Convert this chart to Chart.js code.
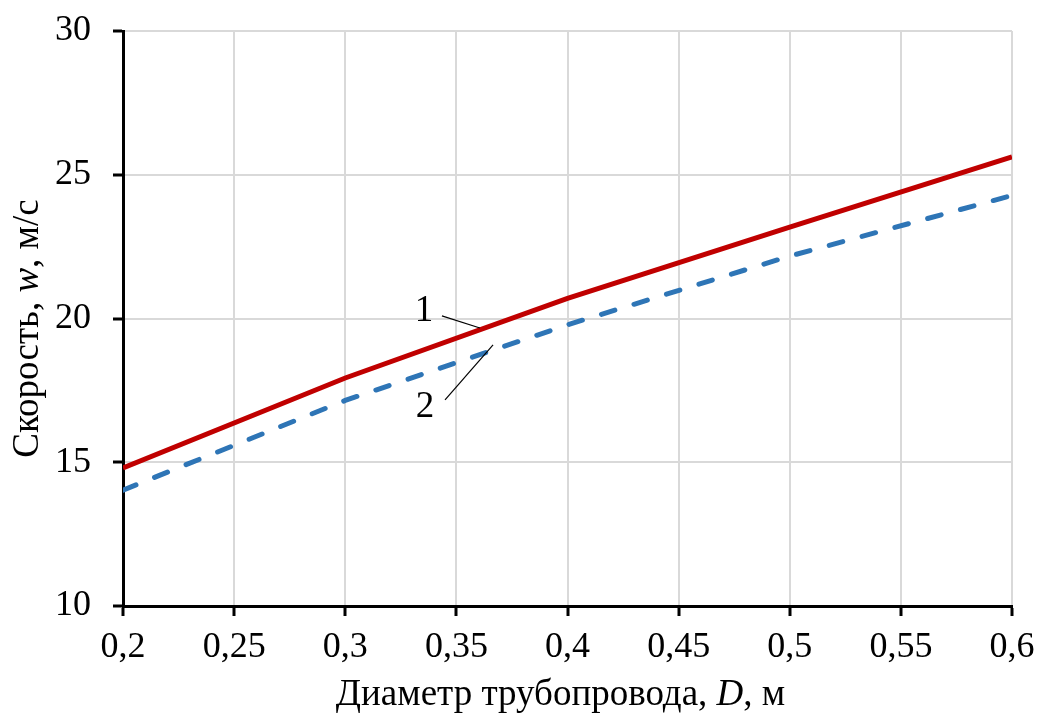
<!DOCTYPE html>
<html>
<head>
<meta charset="utf-8">
<script src="https://cdn.jsdelivr.net/npm/chart.js@4"></script>
<style>
  body { margin: 0; background: #fff; }
  #wrap { width: 1038px; height: 720px; }
</style>
</head>
<body>
<div id="wrap"><canvas id="myChart" width="1038" height="720"></canvas></div>
<script>
// values
const diameters = [0.2, 0.3, 0.4, 0.5, 0.6];
const speed1 = [14.8, 17.93, 20.7, 23.18, 25.62];
const speed2 = [14.03, 17.15, 19.78, 22.17, 24.28];
const yTicks = [10, 15, 20, 25, 30];

// curve labels: [text, label x, label y, line from x, y, to x, y] in data units
const labels = [
  ['1', 0.3354, 20.26, 0.3435, 20.09, 0.3606, 19.67],
  ['2', 0.3359, 16.92, 0.3449, 17.17, 0.3665, 19.08]
];

const FONT = '"Liberation Serif", "Times New Roman", serif';
const TITLE_SIZE = 37;

const toPoints = (xs, ys) => xs.map((x, i) => ({ x: x, y: ys[i] }));

// draws the two axis titles (with italic letters) and the curve labels
const extras = {
  id: 'extras',
  afterDraw(chart) {
    const ctx = chart.ctx;
    const xs = chart.scales.x, ys = chart.scales.y;
    const area = chart.chartArea;

    const drawParts = (parts, cx, cy) => {
      ctx.textBaseline = 'middle';
      ctx.textAlign = 'left';
      let total = 0;
      parts.forEach(p => {
        ctx.font = (p[1] ? 'italic ' : '') + TITLE_SIZE + 'px ' + FONT;
        total += ctx.measureText(p[0]).width;
      });
      let x = cx - total / 2;
      parts.forEach(p => {
        ctx.font = (p[1] ? 'italic ' : '') + TITLE_SIZE + 'px ' + FONT;
        ctx.fillText(p[0], x, cy);
        x += ctx.measureText(p[0]).width;
      });
    };

    ctx.save();
    ctx.fillStyle = '#000';
    drawParts([['Диаметр трубопровода, ', false], ['D', true], [', м', false]],
      (area.left + area.right) / 2 - 7, 695);

    ctx.translate(28, (area.top + area.bottom) / 2 + 10);
    ctx.rotate(-Math.PI / 2);
    drawParts([['Скорость, ', false], ['w', true], [', м/с', false]], 0, 0);
    ctx.restore();

    ctx.save();
    ctx.strokeStyle = '#000';
    ctx.lineWidth = 1.2;
    ctx.fillStyle = '#000';
    ctx.font = '37px ' + FONT;
    ctx.textAlign = 'center';
    ctx.textBaseline = 'middle';
    labels.forEach(l => {
      ctx.fillText(l[0], xs.getPixelForValue(l[1]), ys.getPixelForValue(l[2]));
      ctx.beginPath();
      ctx.moveTo(xs.getPixelForValue(l[3]), ys.getPixelForValue(l[4]));
      ctx.lineTo(xs.getPixelForValue(l[5]), ys.getPixelForValue(l[6]));
      ctx.stroke();
    });
    ctx.restore();
  }
};

new Chart(document.getElementById('myChart').getContext('2d'), {
  type: 'line',
  data: {
    datasets: [
      {
        label: '1',
        data: toPoints(diameters, speed1),
        borderColor: '#c00000',
        borderWidth: 5,
        pointRadius: 0,
        tension: 0,
        order: 1
      },
      {
        label: '2',
        data: toPoints(diameters, speed2),
        borderColor: '#2e75b6',
        borderWidth: 5,
        borderDash: [14, 20],
        borderCapStyle: 'round',
        pointRadius: 0,
        tension: 0,
        order: 2
      }
    ]
  },
  plugins: [extras],
  options: {
    responsive: false,
    animation: false,
    layout: { padding: { top: 31, right: 26, left: 0, bottom: 0 } },
    plugins: {
      legend: { display: false },
      tooltip: { enabled: false }
    },
    scales: {
      x: {
        type: 'linear',
        min: 0.2,
        max: 0.6,
        afterFit: s => { s.height = 114; s.paddingLeft = 0; s.paddingRight = 0; },
        ticks: {
          stepSize: 0.05,
          color: '#000',
          padding: 10,
          font: { family: FONT, size: 36 },
          callback: v => String(Math.round(v * 100) / 100).replace('.', ',')
        },
        grid: { color: '#d9d9d9', lineWidth: 2, tickColor: '#000', tickWidth: 3, tickLength: 10 },
        border: { color: '#000', width: 3 }
      },
      y: {
        min: yTicks[0],
        max: yTicks[yTicks.length - 1],
        afterFit: s => { s.width = 123; s.paddingTop = 0; s.paddingBottom = 0; },
        afterBuildTicks: s => { s.ticks = yTicks.map(v => ({ value: v })); },
        ticks: {
          color: '#000',
          padding: 22,
          font: { family: FONT, size: 36 }
        },
        grid: { color: '#d9d9d9', lineWidth: 2, tickColor: '#000', tickWidth: 3, tickLength: 10 },
        border: { color: '#000', width: 3 }
      }
    }
  }
});
</script>
</body>
</html>
